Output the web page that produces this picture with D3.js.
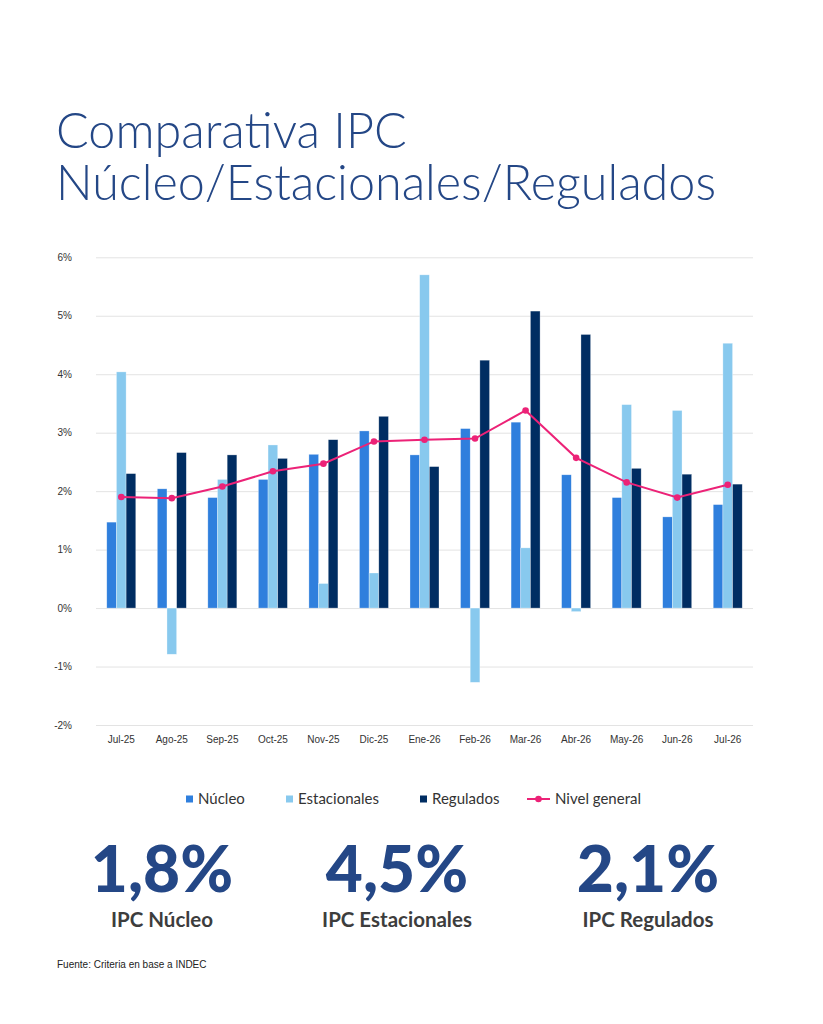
<!DOCTYPE html>
<html>
<head>
<meta charset="utf-8">
<script src="https://cdn.jsdelivr.net/npm/d3@7"></script>
<style>
  body { margin: 0; background: #fff; }
  svg { display: block; }
  .grid line { stroke: #e3e3e3; stroke-width: 1; }
  .grid path { display: none; }
  .tick text { font-family: "Liberation Sans", Arial, sans-serif; font-size: 10px; fill: #333; }
</style>
</head>
<body>
<div id="chart"></div>
<script>
// data
const months = ["Jul-25","Ago-25","Sep-25","Oct-25","Nov-25","Dic-25","Ene-26","Feb-26","Mar-26","Abr-26","May-26","Jun-26","Jul-26"];
const nucleo       = [1.47, 2.04, 1.89, 2.20, 2.63, 3.03, 2.62, 3.07, 3.18, 2.28, 1.89, 1.56, 1.77];
const estacionales = [4.04, -0.79, 2.20, 2.79, 0.42, 0.60, 5.70, -1.27, 1.03, -0.06, 3.48, 3.38, 4.53];
const regulados    = [2.30, 2.66, 2.62, 2.56, 2.88, 3.28, 2.42, 4.24, 5.08, 4.68, 2.39, 2.29, 2.12];
const nivelGeneral = [1.90, 1.88, 2.08, 2.34, 2.47, 2.85, 2.88, 2.90, 3.38, 2.57, 2.15, 1.89, 2.11];
const yTicks = [-2, -1, 0, 1, 2, 3, 4, 5, 6];
const seriesNames = ["Núcleo", "Estacionales", "Regulados"];
const kpiValues = ["1,8%", "4,5%", "2,1%"];
const kpiLabels = ["IPC Núcleo", "IPC Estacionales", "IPC Regulados"];

const colors = { "Núcleo": "#2f7fdd", "Estacionales": "#88c9ee", "Regulados": "#002d62", line: "#ec2277" };
const navy = "#244786";

const W = 823, H = 1024;
const svg = d3.select("#chart").append("svg").attr("width", W).attr("height", H);

// title
const title = svg.append("g").attr("fill", navy)
    .style("font-family", "Lato, sans-serif").style("font-weight", 300);
title.append("text").attr("x", 56).attr("y", 148).style("font-size", "48.5px").text("Comparativa IPC");
title.append("text").attr("x", 56).attr("y", 200).style("font-size", "48.5px").text("Núcleo/Estacionales/Regulados");

// chart area
const plot = { left: 96, right: 753, top: 257.3, bottom: 725 };

const y = d3.scaleLinear().domain([-2, 6]).range([plot.bottom, plot.top]);
const x0 = d3.scaleBand().domain(months).range([plot.left, plot.right])
    .paddingInner(0.426).paddingOuter(0.213);
const x1 = d3.scaleBand().domain(seriesNames).range([0, x0.bandwidth()]);

svg.append("g").attr("class", "grid")
    .attr("transform", `translate(${plot.left},0)`)
    .call(d3.axisLeft(y).tickValues(yTicks).tickSize(-(plot.right - plot.left)).tickFormat(d => d + "%"))
    .call(g => g.selectAll(".tick text").attr("x", -24).attr("dy", "0.32em"));

svg.append("g")
    .attr("transform", `translate(0,${plot.bottom})`)
    .call(d3.axisBottom(x0).tickSize(0).tickPadding(11))
    .call(g => g.select(".domain").remove());

const rows = months.map((m, i) => ({
  month: m,
  vals: [nucleo[i], estacionales[i], regulados[i]]
}));

const groups = svg.append("g").selectAll("g")
  .data(rows).join("g")
    .attr("transform", d => `translate(${x0(d.month)},0)`);

groups.selectAll("rect")
  .data(d => d.vals.map((v, k) => ({ key: seriesNames[k], v })))
  .join("rect")
    .attr("x", d => x1(d.key))
    .attr("y", d => y(Math.max(0, d.v)))
    .attr("width", x1.bandwidth())
    .attr("height", d => Math.abs(y(d.v) - y(0)))
    .attr("fill", d => colors[d.key])
    .attr("stroke", "rgba(255,255,255,0.5)")
    .attr("stroke-width", 0.6);

// nivel general line
const cx = (i) => x0(months[i]) + x0.bandwidth() / 2;
svg.append("path")
    .datum(nivelGeneral)
    .attr("fill", "none")
    .attr("stroke", colors.line)
    .attr("stroke-width", 2)
    .attr("d", d3.line().x((d, i) => cx(i)).y(d => y(d)));

svg.append("g").selectAll("circle")
  .data(nivelGeneral).join("circle")
    .attr("cx", (d, i) => cx(i))
    .attr("cy", d => y(d))
    .attr("r", 3.3)
    .attr("fill", colors.line);

// legend
const legend = svg.append("g").attr("transform", "translate(0,799)")
    .style("font-family", "Lato, sans-serif").style("font-size", "15px").attr("fill", "#333");
const legendX = [186, 286, 420];
seriesNames.forEach((s, i) => {
  legend.append("rect").attr("x", legendX[i]).attr("y", -3.5).attr("width", 7).attr("height", 7).attr("fill", colors[s]);
  legend.append("text").attr("x", legendX[i] + 12).attr("dy", "0.35em").text(s);
});
legend.append("line").attr("x1", 527).attr("x2", 550).attr("stroke", colors.line).attr("stroke-width", 2);
legend.append("circle").attr("cx", 538.5).attr("r", 3.3).attr("fill", colors.line);
legend.append("text").attr("x", 555).attr("dy", "0.35em").text("Nivel general");

// kpi figures
const kpiX = [162, 397, 648];
const kpi = svg.append("g").style("font-family", "Lato, sans-serif").attr("text-anchor", "middle");
kpi.selectAll("text.v").data(kpiValues).join("text").attr("class", "v")
    .attr("x", (d, i) => kpiX[i]).attr("y", 892)
    .attr("fill", navy).style("font-size", "64px").style("font-weight", 900)
    .text(d => d);
kpi.selectAll("text.l").data(kpiLabels).join("text").attr("class", "l")
    .attr("x", (d, i) => kpiX[i]).attr("y", 927)
    .attr("fill", "#3d3d3d").style("font-size", "20.5px").style("font-weight", 700)
    .text(d => d);

svg.append("text").attr("x", 57).attr("y", 968)
    .style("font-family", "'Liberation Sans Narrow', 'Liberation Sans', sans-serif").style("font-size", "10px")
    .attr("fill", "#222").text("Fuente: Criteria en base a INDEC");
</script>
</body>
</html>
